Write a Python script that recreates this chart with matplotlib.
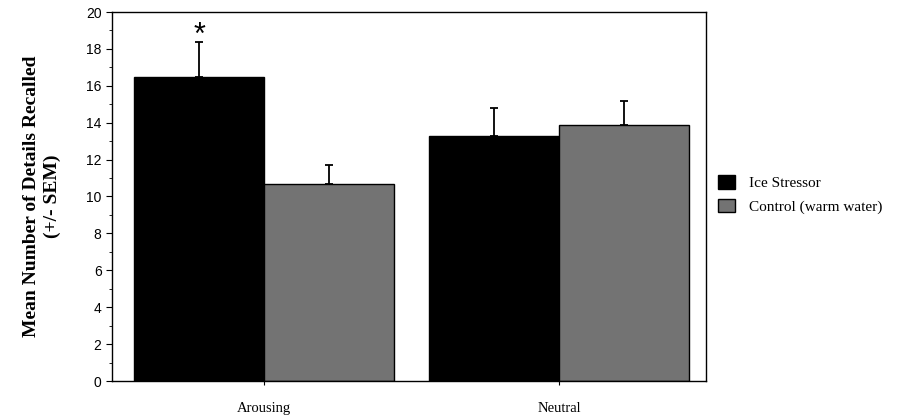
import matplotlib.pyplot as plt
import numpy as np

groups = ["Arousing", "Neutral"]
series = ["Ice Stressor", "Control (warm water)"]
ice_mean = [16.5, 13.3]
ice_sem = [1.85, 1.5]
ctrl_mean = [10.7, 13.9]
ctrl_sem = [1.0, 1.3]
colors = ["#000000", "#737373"]

serif = "Liberation Serif"
sans = "Liberation Sans"

fig = plt.figure(figsize=(9.04, 4.19), dpi=100)
ax = fig.add_axes([112/904, 1 - 381/419, (706-112)/904, (381-12)/419])

x = np.arange(len(groups))
w = 0.44
for i, (means, sems) in enumerate([(ice_mean, ice_sem), (ctrl_mean, ctrl_sem)]):
    pos = x - w/2 + i*w
    ax.bar(pos, means, width=w, color=colors[i], edgecolor="black", lw=1,
           label=series[i], zorder=2)
    ax.errorbar(pos, means, yerr=[np.zeros(len(sems)), sems], fmt="none",
                ecolor="black", elinewidth=1.3, capsize=3, capthick=1.3, zorder=1)

# significance marker (glyph sits high in its box, so pull it down)
ax.text(x[0] - w/2, ice_mean[0] + ice_sem[0] - 0.45, "*", ha="center", va="bottom",
        fontsize=22, family=sans)

ax.set_xlim(-0.515, 1.498)
ax.set_ylim(0, 20)
ax.set_yticks(np.arange(0, 21, 2))
ax.set_yticks(np.arange(1, 20, 2), minor=True)
ax.set_xticks(x)
ax.set_xticklabels(groups, family=serif, fontsize=10.5)
ax.tick_params(axis="x", length=3, pad=12)
ax.tick_params(axis="y", length=4, labelsize=10, direction="out")
ax.tick_params(axis="y", which="minor", length=2)
for lab in ax.get_yticklabels():
    lab.set_family(sans)
for s in ax.spines.values():
    s.set_linewidth(1.0)

ax.set_ylabel("Mean Number of Details Recalled\n(+/- SEM)", family=serif,
              fontsize=14, fontweight="bold", labelpad=18, linespacing=1.3)

ax.legend(loc="center left", bbox_to_anchor=(0.997, 0.505), frameon=False,
          prop={"family": serif, "size": 11}, handlelength=1.1, handleheight=1.0,
          handletextpad=0.9, labelspacing=0.55)

fig.savefig("out.png", dpi=100)
